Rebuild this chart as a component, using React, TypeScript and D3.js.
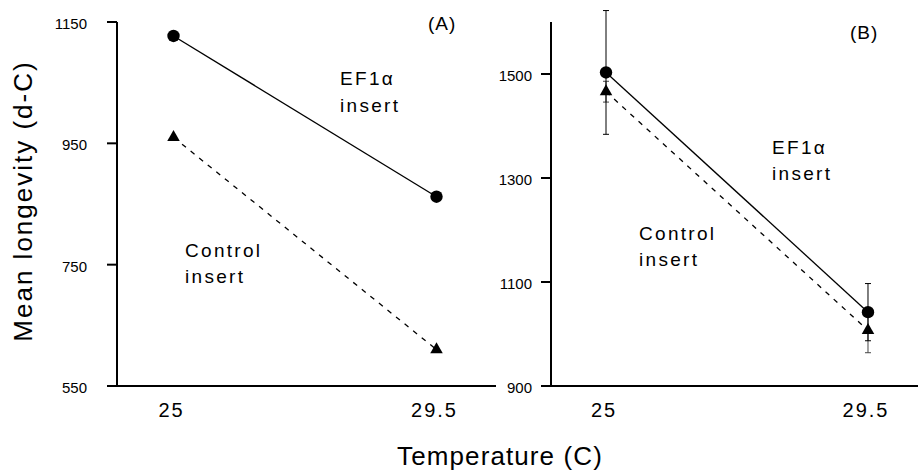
import React from "react";
import * as d3 from "d3";

// Temperatures (x) and their printed labels
const temperatures = [25, 29.5];
const temperatureLabels = ["25", "29.5"];

// Panel A: mean longevity by temperature
const panelAEf1a = [1127, 862];
const panelAControl = [960, 610];
const panelATicks = [550, 750, 950, 1150];

// Panel B: mean longevity with standard errors
const panelBEf1a = [1503, 1042];
const panelBEf1aErr = [119, 55];
const panelBControl = [1466, 1007];
const panelBControlErr = [20, 43];
const panelBTicks = [900, 1100, 1300, 1500];

const FONT = "'Liberation Sans', Arial, Helvetica, sans-serif";

type PanelProps = {
  left: number;
  right: number;
  top: number;
  bottom: number;
  xDomain: [number, number];
  yDomain: [number, number];
  ticks: number[];
  labelGap: number;
  ef1a: number[];
  control: number[];
  ef1aErr?: number[];
  controlErr?: number[];
  tag: string;
  tagPos: [number, number];
  ef1aPos: [number, number];
  controlPos: [number, number];
};

function triangle(cx: number, cy: number, w = 12.5, h = 11) {
  // centroid-centred upward triangle
  return `M${cx},${cy - (2 * h) / 3}L${cx + w / 2},${cy + h / 3}L${cx - w / 2},${cy + h / 3}Z`;
}

function Panel(p: PanelProps) {
  const x = d3.scaleLinear().domain(p.xDomain).range([p.left, p.right]);
  const y = d3.scaleLinear().domain(p.yDomain).range([p.bottom, p.top]);
  const pts = (vals: number[]) => temperatures.map((t, i) => [x(t), y(vals[i])] as [number, number]);
  const line = d3.line<[number, number]>();
  const ef = pts(p.ef1a);
  const ct = pts(p.control);

  const errBar = (vals: number[], errs: number[] | undefined, color: string, key: string) =>
    errs
      ? temperatures.map((t, i) => {
          const cx = x(t);
          const y1 = y(vals[i] + errs[i]);
          const y2 = y(vals[i] - errs[i]);
          return (
            <g key={key + i} stroke={color} strokeWidth={1}>
              <line x1={cx} x2={cx} y1={y1} y2={y2} />
              <line x1={cx - 3} x2={cx + 3} y1={y1} y2={y1} />
              <line x1={cx - 3} x2={cx + 3} y1={y2} y2={y2} />
            </g>
          );
        })
      : null;

  return (
    <g>
      {/* axes */}
      <g stroke="#000" strokeWidth={2} fill="none">
        <line x1={p.left} x2={p.left} y1={p.top} y2={p.bottom + 1} />
        <line x1={p.left} x2={p.right} y1={p.bottom} y2={p.bottom} />
        {p.ticks.map((t) => (
          <line key={t} x1={p.left - 10} x2={p.left} y1={y(t)} y2={y(t)} />
        ))}
      </g>
      {p.ticks.map((t) => (
        <text
          key={"l" + t}
          x={p.left - p.labelGap}
          y={y(t) + 7}
          textAnchor="end"
          fontSize={15}
          fontFamily={FONT}
        >
          {t}
        </text>
      ))}
      {temperatures.map((t, i) => (
        <text
          key={"x" + t}
          x={x(t) - 2}
          y={p.bottom + 31}
          textAnchor="middle"
          fontSize={20}
          letterSpacing={2}
          fontFamily={FONT}
        >
          {temperatureLabels[i]}
        </text>
      ))}

      {/* error bars */}
      {errBar(p.control, p.controlErr, "#444", "ce")}
      {errBar(p.ef1a, p.ef1aErr, "#000", "ee")}

      {/* series lines */}
      <path d={line(ef) || ""} fill="none" stroke="#000" strokeWidth={1.3} />
      <path d={line(ct) || ""} fill="none" stroke="#000" strokeWidth={1.3} strokeDasharray="5,6" />

      {/* markers */}
      {ct.map(([cx, cy], i) => (
        <path key={"t" + i} d={triangle(cx, cy)} fill="#000" />
      ))}
      {ef.map(([cx, cy], i) => (
        <circle key={"c" + i} cx={cx} cy={cy} r={6.2} fill="#000" />
      ))}

      {/* annotations */}
      <g fontFamily={FONT} fontSize={19} letterSpacing={2.3}>
        <text x={p.tagPos[0]} y={p.tagPos[1]} letterSpacing={1}>
          {p.tag}
        </text>
        <text x={p.ef1aPos[0]} y={p.ef1aPos[1]}>EF1α</text>
        <text x={p.ef1aPos[0]} y={p.ef1aPos[1] + 26.5}>insert</text>
        <text x={p.controlPos[0]} y={p.controlPos[1]}>Control</text>
        <text x={p.controlPos[0]} y={p.controlPos[1] + 25.5}>insert</text>
      </g>
    </g>
  );
}

export default function App() {
  return (
    <svg
      width={918}
      height={476}
      style={{ position: "absolute", left: 0, top: 0, background: "#fff" }}
    >
      <rect width={918} height={476} fill="#fff" />
      <Panel
        left={117}
        right={496}
        top={22}
        bottom={386}
        xDomain={[24.033, 30.518]}
        yDomain={[550, 1150]}
        ticks={panelATicks}
        labelGap={30}
        ef1a={panelAEf1a}
        control={panelAControl}
        tag="(A)"
        tagPos={[428, 30]}
        ef1aPos={[340, 85]}
        controlPos={[185, 257]}
      />
      <Panel
        left={551}
        right={918}
        top={22}
        bottom={386}
        xDomain={[24.055, 30.359]}
        yDomain={[900, 1600]}
        ticks={panelBTicks}
        labelGap={19}
        ef1a={panelBEf1a}
        control={panelBControl}
        ef1aErr={panelBEf1aErr}
        controlErr={panelBControlErr}
        tag="(B)"
        tagPos={[850, 38.5]}
        ef1aPos={[772, 153.5]}
        controlPos={[639, 240]}
      />
      <text
        transform="translate(32,201) rotate(-90)"
        textAnchor="middle"
        fontSize={26}
        letterSpacing={2}
        fontFamily={FONT}
      >
        Mean longevity (d-C)
      </text>
      <text x={500} y={465} textAnchor="middle" fontSize={26} letterSpacing={1.1} fontFamily={FONT}>
        Temperature (C)
      </text>
    </svg>
  );
}
